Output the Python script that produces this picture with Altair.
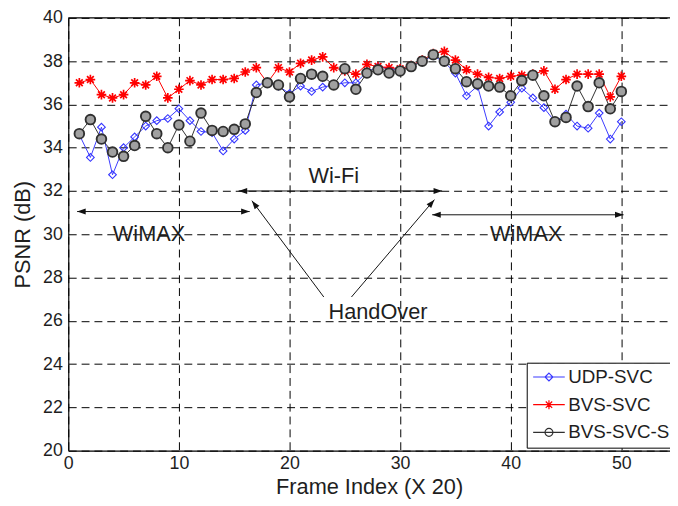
import altair as alt
import pandas as pd

# ---------------- data ----------------
frames = list(range(1, 51))
udp_svc = [34.6, 33.55, 34.95, 32.75, 34.0, 34.5, 35.0, 35.25, 35.35, 35.8,
           35.25, 34.75, 34.7, 33.85, 34.4, 34.8, 36.9, 37.0, 36.85, 36.5,
           36.85, 36.6, 36.8, 36.9, 37.0, 37.0, 37.5, 37.75, 37.65, 37.6,
           37.75, 38.0, 38.25, 37.95, 37.45, 36.4, 36.85, 35.0, 35.65, 36.1,
           36.75, 36.3, 35.85, 35.2, 35.55, 35.0, 34.9, 35.6, 34.4, 35.2]
bvs_svc = [37.0, 37.15, 36.45, 36.3, 36.45, 37.0, 36.9, 37.3, 36.3, 36.7,
           37.1, 36.9, 37.15, 37.15, 37.2, 37.5, 37.7, 37.0, 37.7, 37.5,
           37.9, 38.05, 38.2, 37.7, 37.55, 37.4, 37.85, 37.75, 37.7, 37.65,
           37.8, 38.05, 38.35, 38.45, 38.05, 37.6, 37.4, 37.25, 37.2, 37.3,
           37.35, 37.4, 37.55, 36.7, 37.15, 37.4, 37.4, 37.4, 36.35, 37.3]
bvs_svc_s = [34.65, 35.3, 34.4, 33.8, 33.6, 34.1, 35.45, 34.65, 34.0, 35.05,
             34.3, 35.6, 34.8, 34.75, 34.85, 35.1, 36.55, 37.0, 36.9, 36.35,
             37.2, 37.4, 37.3, 36.9, 37.65, 36.7, 37.45, 37.6, 37.45, 37.55,
             37.75, 38.0, 38.3, 38.0, 37.65, 37.05, 36.95, 36.85, 36.8, 36.4,
             37.1, 37.35, 36.4, 35.2, 35.4, 36.85, 35.9, 37.0, 35.8, 36.6]
series_names = ["UDP-SVC", "BVS-SVC", "BVS-SVC-S"]
series_colors = ["#3a3aff", "#ff0000", "#303030"]

x_ticks = [0, 10, 20, 30, 40, 50]
y_ticks = [20, 22, 24, 26, 28, 30, 32, 34, 36, 38, 40]

# annotation arrows (segment ends, in data units)
arrow_x1 = [0.8, 15.4, 32.9, 23.1, 25.6]
arrow_y1 = [31.05, 32.0, 30.9, 27.1, 27.1]
arrow_x2 = [16.4, 33.8, 50.2, 16.6, 33.1]
arrow_y2 = [31.05, 32.0, 30.9, 31.55, 31.6]
# arrow heads
head_x = [0.8, 16.4, 15.4, 33.8, 32.9, 50.2, 16.6, 33.1]
head_y = [31.05, 31.05, 32.0, 32.0, 30.9, 30.9, 31.55, 31.6]
head_angle = [270, 90, 270, 90, 270, 90, 323, 40]
# annotation labels
note_text = ["WiMAX", "Wi-Fi", "WiMAX", "HandOver"]
note_x = [7.3, 24.0, 41.4, 28.0]
note_y = [30.0, 32.7, 30.0, 26.4]

FONT = "Liberation Sans"
TXT = "#1e1e1e"

rows = []
for name, vals in zip(series_names, [udp_svc, bvs_svc, bvs_svc_s]):
    rows += [{"frame": f, "psnr": v, "series": name} for f, v in zip(frames, vals)]
df = pd.DataFrame(rows)

x_scale = alt.Scale(domain=[0, 54.4], nice=False, zero=False)
y_scale = alt.Scale(domain=[20, 40], nice=False, zero=False)
color_scale = alt.Scale(domain=series_names, range=series_colors)

ASTERISK = "M0,-1 L0,1 M-1,0 L1,0 M-0.7,-0.7 L0.7,0.7 M-0.7,0.7 L0.7,-0.7"
HEAD = "M0,0 L-0.35,1 L0.35,1 Z"
legend_paths = [
    "M-3.2,0 L3.2,0 M0,-0.8 L0.8,0 L0,0.8 L-0.8,0 Z",
    "M-3.2,0 L3.2,0 M0,-0.9 L0,0.9 M-0.9,0 L0.9,0 M-0.65,-0.65 L0.65,0.65 M-0.65,0.65 L0.65,-0.65",
    "M-3.2,0 L3.2,0 M-0.8,0 A0.8,0.8 0 1,1 0.8,0 A0.8,0.8 0 1,1 -0.8,0",
]

X_TITLE = "Frame Index (X 20)"
Y_TITLE = "PSNR (dB)"
x_axis = alt.Axis(values=x_ticks, title=X_TITLE, labelFlush=False,
                  titlePadding=4, labelPadding=4)
y_axis = alt.Axis(values=y_ticks, title=Y_TITLE, labelFlush=False,
                  titlePadding=8, labelPadding=6)

base = alt.Chart(df).encode(
    x=alt.X("frame:Q", scale=x_scale, axis=x_axis, title=X_TITLE),
    y=alt.Y("psnr:Q", scale=y_scale, axis=y_axis, title=Y_TITLE),
)

leg = alt.Legend(title=None, orient="none", legendX=464, legendY=349,
                 strokeColor="black", fillColor="white", padding=5,
                 labelFont=FONT, labelFontSize=19, labelColor=TXT,
                 symbolSize=100, symbolStrokeWidth=1.2, symbolOffset=8,
                 labelOffset=10, rowPadding=8, symbolOpacity=1)

# first layer: carries the axes and the legend
legend_layer = base.mark_point(filled=False, opacity=0).encode(
    color=alt.Color("series:N", scale=color_scale, legend=leg),
    shape=alt.Shape("series:N", scale=alt.Scale(domain=series_names, range=legend_paths),
                    legend=leg),
)

lines = base.mark_line(strokeWidth=1).encode(
    color=alt.Color("series:N", scale=color_scale, legend=leg)
)

blue_pts = base.transform_filter(alt.datum.series == "UDP-SVC").mark_point(
    shape="diamond", filled=False, stroke="#3535ff", strokeWidth=1.1, size=60, opacity=1)
red_pts = base.transform_filter(alt.datum.series == "BVS-SVC").mark_point(
    shape=ASTERISK, filled=False, stroke="#ff0000", strokeWidth=1.7, size=95, opacity=1)
grey_pts = base.transform_filter(alt.datum.series == "BVS-SVC-S").mark_point(
    shape="circle", filled=True, fill="#a0a0a0", stroke="#303030", strokeWidth=1.9,
    size=95, opacity=1)

arrow_df = pd.DataFrame({"x1": arrow_x1, "y1": arrow_y1, "x2": arrow_x2, "y2": arrow_y2})
arrows = alt.Chart(arrow_df).mark_rule(color="#111111", strokeWidth=1).encode(
    x=alt.X("x1:Q", scale=x_scale, axis=x_axis, title=X_TITLE),
    y=alt.Y("y1:Q", scale=y_scale, axis=y_axis, title=Y_TITLE),
    x2="x2:Q", y2="y2:Q")

head_df = pd.DataFrame({"x": head_x, "y": head_y, "a": head_angle})
heads = alt.Chart(head_df).mark_point(shape=HEAD, filled=True, color="#111111",
                                       size=300, opacity=1).encode(
    x=alt.X("x:Q", scale=x_scale, axis=x_axis, title=X_TITLE),
    y=alt.Y("y:Q", scale=y_scale, axis=y_axis, title=Y_TITLE),
    angle=alt.Angle("a:Q", scale=None))

note_df = pd.DataFrame({"t": note_text, "x": note_x, "y": note_y})
notes = alt.Chart(note_df).mark_text(font=FONT, fontSize=22, color=TXT,
                                     align="center", baseline="middle").encode(
    x=alt.X("x:Q", scale=x_scale, axis=x_axis, title=X_TITLE),
    y=alt.Y("y:Q", scale=y_scale, axis=y_axis, title=Y_TITLE),
    text="t:N")

top_df = pd.DataFrame({"top": [40]})
top_rule = alt.Chart(top_df).mark_rule(color="black", strokeWidth=1.2).encode(
    y=alt.Y("top:Q", scale=y_scale, axis=y_axis, title=Y_TITLE))

chart = alt.layer(
    legend_layer, arrows, heads, notes, lines, blue_pts, red_pts, grey_pts, top_rule
).properties(
    width=609, height=438,
    padding={"left": 61, "top": 7, "right": 0, "bottom": 50},
    autosize=alt.AutoSizeParams(type="none"),
).configure_view(stroke=None).configure_axis(
    labelFont=FONT, labelFontSize=18, labelColor=TXT,
    titleFont=FONT, titleFontSize=22, titleFontWeight="normal", titleColor=TXT,
    grid=True, gridColor="black", gridDash=[8, 5], gridWidth=1, gridOpacity=1,
    domainColor="black", domainWidth=1.2, ticks=False,
)

chart.save("out.html", embed_options={"renderer": "svg", "actions": False})
